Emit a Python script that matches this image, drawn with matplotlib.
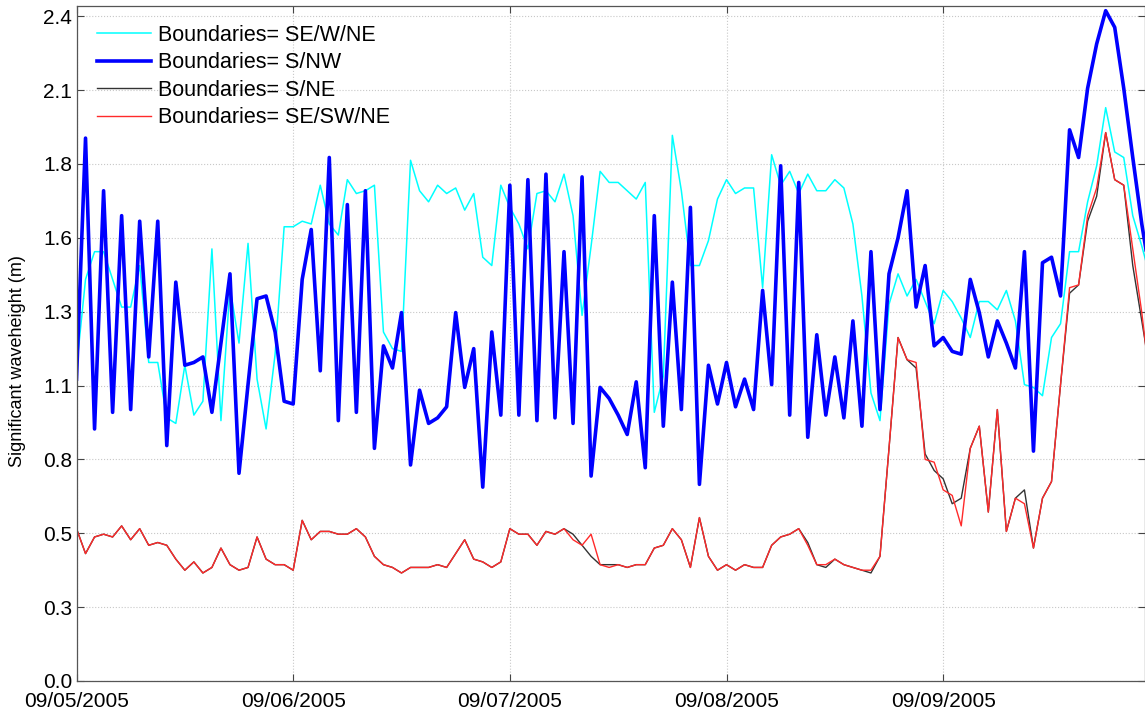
import pandas as pd
import matplotlib
matplotlib.use('Agg')
import matplotlib.pyplot as plt
import matplotlib.dates as mdates

plt.rcParams['font.family'] = ['Liberation Sans', 'DejaVu Sans']

# hourly significant wave height (m), starting 09/05/2005 00:00
hs_se_w_ne = [
    1.13, 1.45, 1.55, 1.55, 1.45, 1.35, 1.35, 1.50, 1.15, 1.15,
    0.95, 0.93, 1.14, 0.96, 1.01, 1.56, 0.94, 1.42, 1.22, 1.58,
    1.09, 0.91, 1.18, 1.64, 1.64, 1.66, 1.65, 1.79, 1.65, 1.61,
    1.81, 1.76, 1.77, 1.79, 1.26, 1.20, 1.19, 1.88, 1.77, 1.73,
    1.79, 1.76, 1.78, 1.70, 1.76, 1.53, 1.50, 1.79, 1.71, 1.65,
    1.56, 1.76, 1.77, 1.73, 1.83, 1.68, 1.32, 1.57, 1.84, 1.80,
    1.80, 1.77, 1.74, 1.80, 0.97, 1.10, 1.97, 1.77, 1.50, 1.50,
    1.59, 1.74, 1.81, 1.76, 1.78, 1.78, 1.42, 1.90, 1.79, 1.84,
    1.76, 1.83, 1.77, 1.77, 1.81, 1.78, 1.65, 1.39, 1.04, 0.94,
    1.36, 1.47, 1.39, 1.45, 1.37, 1.29, 1.41, 1.37, 1.31, 1.24,
    1.37, 1.37, 1.34, 1.41, 1.30, 1.07, 1.06, 1.03, 1.24, 1.29,
    1.55, 1.55, 1.73, 1.86, 2.07, 1.91, 1.89, 1.68, 1.57, 1.45,
]

hs_s_nw = [
    1.09, 1.96, 0.91, 1.77, 0.97, 1.68, 0.98, 1.66, 1.17, 1.66,
    0.85, 1.44, 1.14, 1.15, 1.17, 0.97, 1.22, 1.47, 0.75, 1.07,
    1.38, 1.39, 1.26, 1.01, 1.00, 1.45, 1.63, 1.12, 1.89, 0.94,
    1.72, 0.97, 1.77, 0.84, 1.21, 1.13, 1.33, 0.78, 1.05, 0.93,
    0.95, 0.99, 1.33, 1.06, 1.20, 0.70, 1.26, 0.96, 1.79, 0.96,
    1.81, 0.94, 1.83, 0.95, 1.55, 0.93, 1.82, 0.74, 1.06, 1.02,
    0.96, 0.89, 1.08, 0.77, 1.68, 0.92, 1.44, 0.98, 1.71, 0.71,
    1.14, 1.00, 1.15, 0.99, 1.09, 0.98, 1.41, 1.07, 1.86, 0.96,
    1.80, 0.88, 1.25, 0.96, 1.17, 0.95, 1.30, 0.92, 1.55, 0.98,
    1.47, 1.60, 1.77, 1.35, 1.50, 1.21, 1.24, 1.19, 1.18, 1.45,
    1.33, 1.17, 1.30, 1.22, 1.13, 1.55, 0.83, 1.51, 1.53, 1.39,
    1.99, 1.89, 2.14, 2.30, 2.42, 2.36, 2.14, 1.89, 1.65, 1.45,
]

hs_s_ne = [
    0.55, 0.46, 0.52, 0.53, 0.52, 0.56, 0.51, 0.55, 0.49, 0.50,
    0.49, 0.44, 0.40, 0.43, 0.39, 0.41, 0.48, 0.42, 0.40, 0.41,
    0.52, 0.44, 0.42, 0.42, 0.40, 0.58, 0.51, 0.54, 0.54, 0.53,
    0.53, 0.55, 0.52, 0.45, 0.42, 0.41, 0.39, 0.41, 0.41, 0.41,
    0.42, 0.41, 0.46, 0.51, 0.44, 0.43, 0.41, 0.43, 0.55, 0.53,
    0.53, 0.49, 0.54, 0.53, 0.55, 0.53, 0.49, 0.45, 0.42, 0.42,
    0.42, 0.41, 0.42, 0.42, 0.48, 0.49, 0.55, 0.51, 0.41, 0.59,
    0.45, 0.40, 0.42, 0.40, 0.42, 0.41, 0.41, 0.49, 0.52, 0.53,
    0.55, 0.50, 0.42, 0.41, 0.44, 0.42, 0.41, 0.40, 0.39, 0.45,
    0.84, 1.24, 1.16, 1.13, 0.82, 0.76, 0.73, 0.64, 0.66, 0.84,
    0.92, 0.61, 0.98, 0.54, 0.66, 0.69, 0.48, 0.66, 0.72, 1.07,
    1.40, 1.43, 1.66, 1.75, 1.98, 1.81, 1.79, 1.50, 1.30, 1.10,
]

hs_se_sw_ne = [
    0.55, 0.46, 0.52, 0.53, 0.52, 0.56, 0.51, 0.55, 0.49, 0.50,
    0.49, 0.44, 0.40, 0.43, 0.39, 0.41, 0.48, 0.42, 0.40, 0.41,
    0.52, 0.44, 0.42, 0.42, 0.40, 0.58, 0.51, 0.54, 0.54, 0.53,
    0.53, 0.55, 0.52, 0.45, 0.42, 0.41, 0.39, 0.41, 0.41, 0.41,
    0.42, 0.41, 0.46, 0.51, 0.44, 0.43, 0.41, 0.43, 0.55, 0.53,
    0.53, 0.49, 0.54, 0.53, 0.55, 0.51, 0.49, 0.53, 0.42, 0.41,
    0.42, 0.41, 0.42, 0.42, 0.48, 0.49, 0.55, 0.51, 0.41, 0.59,
    0.45, 0.40, 0.42, 0.40, 0.42, 0.41, 0.41, 0.49, 0.52, 0.53,
    0.55, 0.49, 0.42, 0.42, 0.44, 0.42, 0.41, 0.40, 0.40, 0.45,
    0.84, 1.24, 1.16, 1.15, 0.80, 0.79, 0.69, 0.67, 0.56, 0.84,
    0.92, 0.61, 0.98, 0.54, 0.66, 0.64, 0.48, 0.66, 0.72, 1.07,
    1.42, 1.43, 1.68, 1.78, 1.98, 1.81, 1.79, 1.56, 1.33, 1.05,
]

labels = ['Boundaries= SE/W/NE', 'Boundaries= S/NW',
          'Boundaries= S/NE', 'Boundaries= SE/SW/NE']
ytick_vals = [0.0, 0.2667, 0.5333, 0.8, 1.0667, 1.3333, 1.6, 1.8667, 2.1333, 2.4]
ytick_labels = ['0.0', '0.3', '0.5', '0.8', '1.1', '1.3', '1.6', '1.8', '2.1', '2.4']

times = pd.date_range('2005-09-05 00:00', periods=len(hs_s_nw), freq='h')

W, H = 1145, 713
fig = plt.figure(figsize=(W / 100, H / 100), dpi=100)
ax = fig.add_axes([76.5 / W, 32 / H, (1144.5 - 76.5) / W, (681 - 6) / H])

ax.plot(times, hs_se_w_ne, color='#00ffff', lw=1.1, label=labels[0])
ax.plot(times, hs_s_nw, color='#0000ff', lw=2.6, label=labels[1])
ax.plot(times, hs_s_ne, color='#333333', lw=1.0, label=labels[2])
ax.plot(times, hs_se_sw_ne, color='#ff2a2a', lw=1.0, label=labels[3])

ax.set_xlim(times[0], times[0] + pd.Timedelta(hours=118.3))
ax.set_ylim(0, 2.437)
ax.set_yticks(ytick_vals)
ax.set_yticklabels(ytick_labels)
ax.xaxis.set_major_locator(mdates.DayLocator())
ax.xaxis.set_major_formatter(mdates.DateFormatter('%m/%d/%Y'))

ax.grid(True, linestyle=':', color='#c8c8c8', lw=0.8)
ax.tick_params(direction='in', length=5, width=0.8, color='#444444',
               top=True, right=True, labelsize=15)
ax.tick_params(axis='x', pad=8)
ax.tick_params(axis='y', pad=3)
for s in ax.spines.values():
    s.set_color('#555555')
    s.set_linewidth(0.9)

ax.set_ylabel('Significant waveheight (m)', fontsize=13)
ax.yaxis.set_label_coords(-0.047, 0.474)

ax.legend(loc='upper left', bbox_to_anchor=(0.019, 0.972), frameon=False,
          fontsize=15.5, handlelength=2.5, handletextpad=0.32,
          labelspacing=0.3, borderpad=0, borderaxespad=0)

fig.savefig('out.png', dpi=100)
